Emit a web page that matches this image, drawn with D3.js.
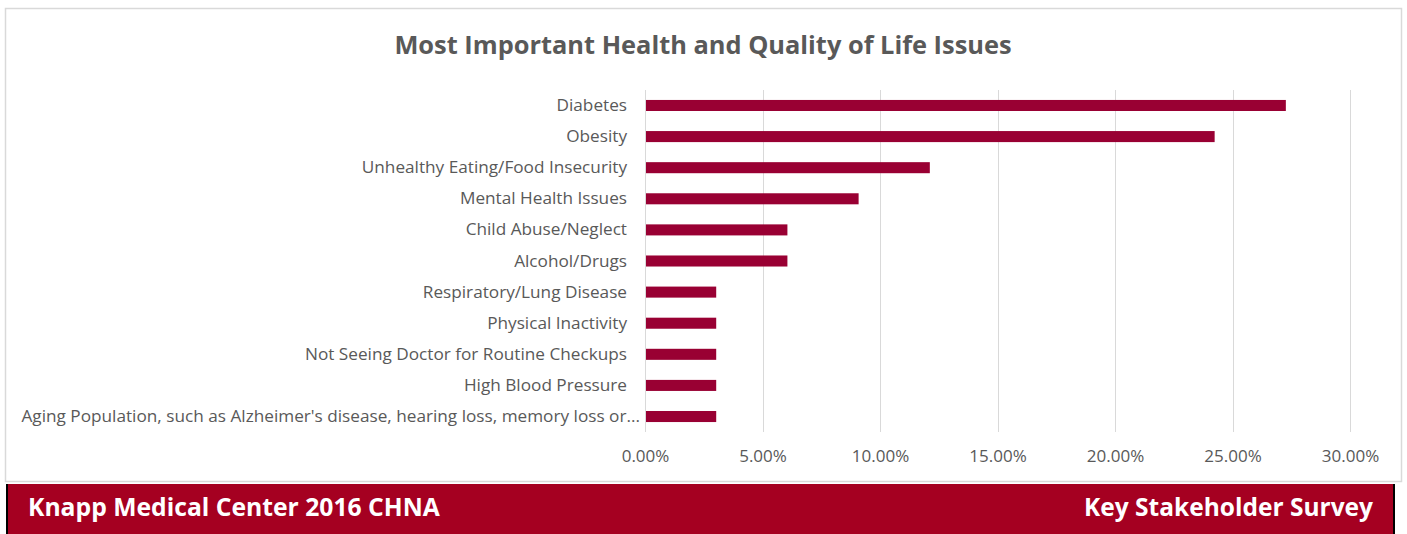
<!DOCTYPE html>
<html>
<head>
<meta charset="utf-8">
<script src="https://cdn.jsdelivr.net/npm/d3@7"></script>
<style>
  body { margin: 0; background: #fff; }
  svg { display: block; font-family: "Open Sans", "Noto Sans", sans-serif; }
</style>
</head>
<body>
<svg id="chart" width="1407" height="534"></svg>
<script>
// chart data
var categories = [
    "Diabetes",
    "Obesity",
    "Unhealthy Eating/Food Insecurity",
    "Mental Health Issues",
    "Child Abuse/Neglect",
    "Alcohol/Drugs",
    "Respiratory/Lung Disease",
    "Physical Inactivity",
    "Not Seeing Doctor for Routine Checkups",
    "High Blood Pressure",
    "Aging Population, such as Alzheimer's disease, hearing loss, memory loss or..."
];
var values = [27.27, 24.24, 12.12, 9.09, 6.06, 6.06, 3.03, 3.03, 3.03, 3.03, 3.03];
var tickValues = [0, 5, 10, 15, 20, 25, 30];
var title = "Most Important Health and Quality of Life Issues";
var footerLeft = "Knapp Medical Center 2016 CHNA";
var footerRight = "Key Stakeholder Survey";

var svg = d3.select("#chart");
var grey = "#595959";
var font = "'Open Sans', 'Noto Sans', sans-serif";

//outer chart border
svg.append("rect")
    .attr("x", 5.5).attr("y", 8.5)
    .attr("width", 1396).attr("height", 473)
    .attr("fill", "#fff")
    .attr("stroke", "#d9d9d9")
    .attr("stroke-width", 1.5);

var x = d3.scaleLinear().domain([0, 30]).range([645, 1350]);
var y = d3.scaleBand().domain(categories).range([90, 432]).paddingInner(0.645).paddingOuter(0.32);

//gridlines
svg.append("g")
    .selectAll("line")
    .data(tickValues)
    .enter().append("line")
    .attr("x1", function(d) { return Math.round(x(d)) + 0.5; })
    .attr("x2", function(d) { return Math.round(x(d)) + 0.5; })
    .attr("y1", 90).attr("y2", 432)
    .attr("stroke", "#d9d9d9")
    .attr("stroke-width", 1);

//bars
svg.append("g")
    .selectAll("rect")
    .data(values)
    .enter().append("rect")
    .attr("x", x(0) + 1)
    .attr("y", function(d, i) { return y(categories[i]); })
    .attr("width", function(d) { return x(d) - x(0) - 1; })
    .attr("height", y.bandwidth())
    .attr("fill", "#990033");

//category labels
var yAxis = d3.axisLeft(y).tickSize(0).tickPadding(18);
var yg = svg.append("g").attr("transform", "translate(645,0)").call(yAxis);
yg.attr("font-family", font);
yg.select(".domain").remove();
yg.selectAll("text")
    .attr("fill", grey)
    .style("font-size", "17.2px");
//last label is longer (ellipsis) in the original, pushed to the bar edge
yg.selectAll(".tick").filter(function(d, i) { return i === categories.length - 1; })
    .select("text").attr("x", -5);

//tick labels
var xAxis = d3.axisBottom(x).tickValues(tickValues).tickSize(0).tickPadding(0)
    .tickFormat(function(d) { return d.toFixed(2) + "%"; });
var xg = svg.append("g").attr("transform", "translate(0,450)").call(xAxis);
xg.attr("font-family", font);
xg.select(".domain").remove();
xg.selectAll("text")
    .attr("fill", grey)
    .style("font-size", "17px");

//title
svg.append("text")
    .attr("x", 703).attr("y", 54)
    .attr("text-anchor", "middle")
    .attr("fill", grey)
    .style("font-size", "25.4px")
    .style("font-weight", "bold")
    .text(title);

//footer band
svg.append("rect")
    .attr("x", 6).attr("y", 484)
    .attr("width", 1389).attr("height", 50)
    .attr("fill", "#000");
svg.append("rect")
    .attr("x", 8).attr("y", 484)
    .attr("width", 1385).attr("height", 50)
    .attr("fill", "#a50021");

svg.append("text")
    .attr("x", 28).attr("y", 516)
    .attr("fill", "#fff")
    .style("font-size", "24.7px")
    .style("font-weight", "bold")
    .text(footerLeft);

svg.append("text")
    .attr("x", 1373).attr("y", 516)
    .attr("text-anchor", "end")
    .attr("fill", "#fff")
    .style("font-size", "24.5px")
    .style("font-weight", "bold")
    .text(footerRight);
</script>
</body>
</html>
